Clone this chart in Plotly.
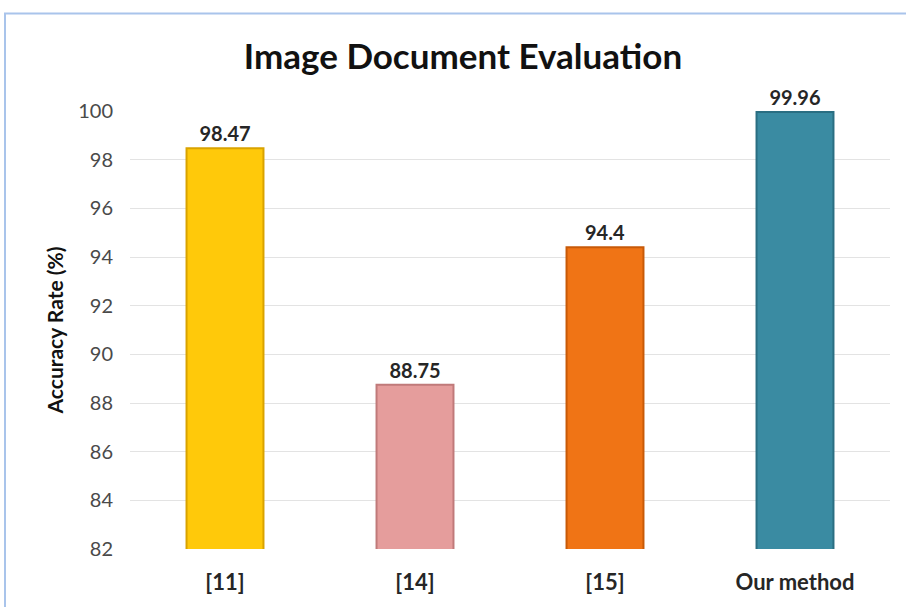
import plotly.graph_objects as go

categories = ["[11]", "[14]", "[15]", "Our method"]
values = [98.47, 88.75, 94.4, 99.96]
labels = ["98.47", "88.75", "94.4", "99.96"]
colors = ["#FFC90A", "#E59D9C", "#F07415", "#3A8BA2"]
edge_colors = ["#D9A300", "#C07A7A", "#C85A08", "#2A6E82"]
tick_vals = [82, 84, 86, 88, 90, 92, 94, 96, 98, 100]

FONT = "Lato, Open Sans, sans-serif"

fig = go.Figure()
fig.add_trace(go.Bar(
    x=categories, y=values, base=0,
    marker=dict(color=colors, line=dict(color=edge_colors, width=2)),
    width=0.405,
    text=labels, textposition="outside", cliponaxis=False,
    textfont=dict(family=FONT, size=20, color="#262626", weight="bold"),
))

W, H = 906, 607
ml, mr, mt, mb = 130, 16, 111, 56
pw, ph = W - ml - mr, H - mt - mb

fig.update_layout(
    width=W, height=H,
    margin=dict(l=ml, r=mr, t=mt, b=mb),
    paper_bgcolor="white", plot_bgcolor="white",
    showlegend=False,
    title=dict(text="<b>Image Document Evaluation</b>", x=463 / W, xanchor="center",
               y=1 - 57 / H, yanchor="middle",
               font=dict(family=FONT, size=35, color="#111111")),
    xaxis=dict(showgrid=False, showline=False, ticks="", ticklabelstandoff=18,
               tickfont=dict(family=FONT, size=22, color="#262626", weight="bold")),
    yaxis=dict(range=[82, 100], tickvals=tick_vals, showgrid=True, gridcolor="#E3E3E3", gridwidth=1.2,
               zeroline=False, showline=False, ticks="", ticklabelstandoff=16,
               tickfont=dict(family=FONT, size=20, color="#4A4A4A"),
               title=dict(text="<b>Accuracy Rate (%)</b>", standoff=8,
                          font=dict(family=FONT, size=21, color="#111111"))),
)

fig.add_shape(type="rect", xref="paper", yref="paper",
              x0=(5 - ml) / pw, x1=(W + 20 - ml) / pw,
              y0=-(mb + 20) / ph, y1=(H - mb - 13) / ph,
              line=dict(color="#A9C4EB", width=2), fillcolor="rgba(0,0,0,0)", layer="below")

fig.write_html("out.html", config={"displayModeBar": False},
               post_script="document.body.style.margin='0';")
